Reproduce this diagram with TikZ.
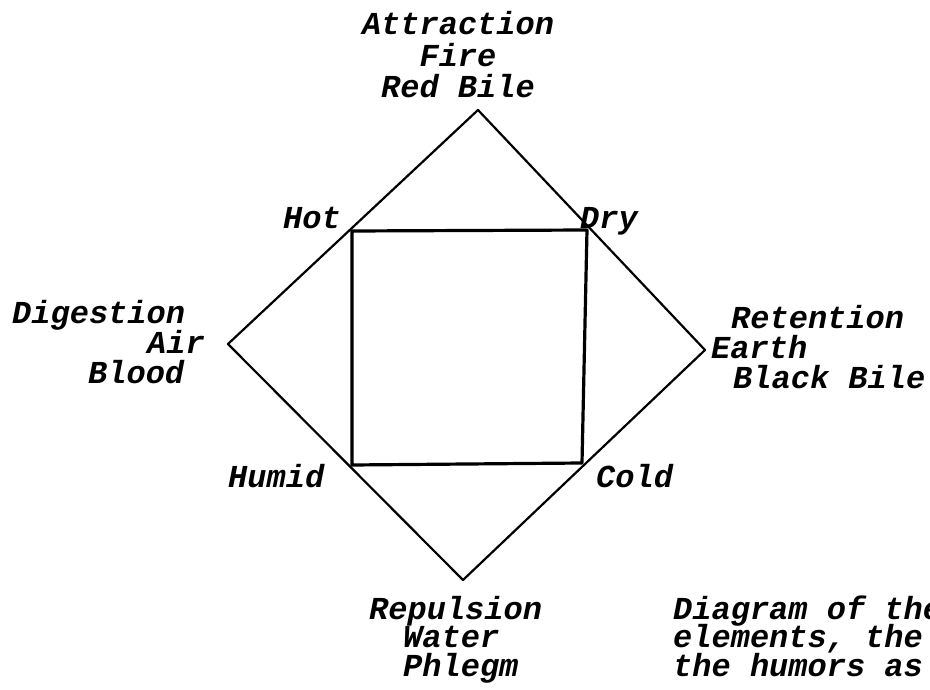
\documentclass[tikz,border=0pt]{standalone}
\usepackage{fontspec}
\newfontfamily\tw{Liberation Mono}
\newcommand\twstack[2]{\vtop{\baselineskip=#1\lineskiplimit=-100pt\lineskip=0pt #2}}
\begin{document}
\begin{tikzpicture}[x=1pt,y=-1pt,
  lbl/.style={inner sep=0pt,font=\tw\bfseries\itshape\fontsize{32}{30}\selectfont},
  lw/.style={lbl,anchor=base west},
  lc/.style={lbl,anchor=base},
  diam/.style={line width=2.2pt,line join=round,line cap=round},
  sq/.style={line width=3.2pt,line join=round}]
\useasboundingbox (0,0) rectangle (930,690);
\clip (0,0) rectangle (930,690);
% diamond apexes
\coordinate (T) at (478,110);
\coordinate (L) at (228,344);
\coordinate (R) at (705,350);
\coordinate (B) at (463,580);
% square corners
\coordinate (hot) at (352,231);
\coordinate (dry) at (587,230);
\coordinate (cold) at (582,463);
\coordinate (humid) at (352,465);
\draw[diam] (T) -- (L) -- (B) -- (R) -- cycle;
\draw[sq] (hot) -- (dry) -- (cold) -- (humid) -- cycle;
% top labels
\node[lc] (top) at (458,35) {\twstack{31.5pt}{%
  \hbox to 192pt{\hfil Attraction\hfil}%
  \hbox to 192pt{\hfil Fire\hfil}%
  \hbox to 192pt{\hfil Red Bile\hfil}}};
% left labels
\node[lw] (left) at (12,323) {\twstack{30pt}{%
  \hbox{Digestion}%
  \hbox{\kern135pt Air}%
  \hbox{\kern76pt Blood}}};
% right labels
\node[lw] (right) at (711,328) {\twstack{30pt}{%
  \hbox{\kern20pt Retention}%
  \hbox{Earth}%
  \hbox{\kern22pt Black Bile}}};
% bottom labels
\node[lw] (bottom) at (369,619) {\twstack{28.5pt}{%
  \hbox{Repulsion}%
  \hbox{\kern34pt Water}%
  \hbox{\kern34pt Phlegm}}};
% qualities
\node[lw] (qh) at (283,229) {Hot};
\node[lw] (qd) at (580,229) {Dry};
\node[lw] (qu) at (228,487) {Humid};
\node[lw] (qc) at (596,487) {Cold};
% caption
\node[lw] (caption) at (673,619) {\twstack{28.5pt}{%
  \hbox{Diagram of the}%
  \hbox{elements, the}%
  \hbox{the humors as}}};
\end{tikzpicture}
\end{document}
